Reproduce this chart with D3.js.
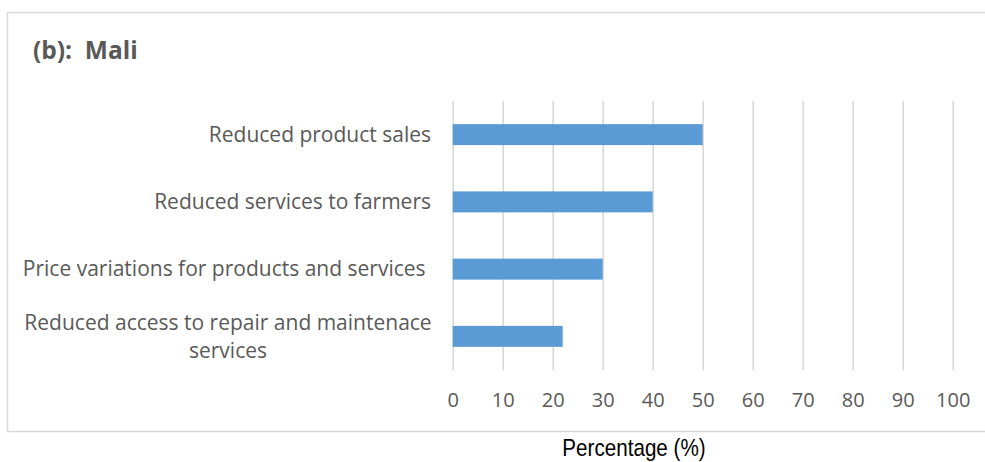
<!DOCTYPE html>
<html>
<head>
<meta charset="utf-8">
<script src="https://cdn.jsdelivr.net/npm/d3@7"></script>
<style>
  html, body { margin: 0; padding: 0; background: #fff; }
  svg { display: block; }
</style>
</head>
<body>
<svg id="chart" width="985" height="462"></svg>
<script>
// Impacts reported in Mali (percentage of respondents)
const categories = [
  "Reduced product sales",
  "Reduced services to farmers",
  "Price variations for products and services ",
  "Reduced access to repair and maintenace services"
];
const values = [50, 40, 30, 22];
const xTicks = [0, 10, 20, 30, 40, 50, 60, 70, 80, 90, 100];
// Line breaks for long category labels
const labelLines = [
  ["Reduced product sales"],
  ["Reduced services to farmers"],
  ["Price variations for products and services "],
  ["Reduced access to repair and maintenace", "services"]
];

const svg = d3.select("#chart");
const textColor = "#595959";
const gridColor = "#d9d9d9";
const barColor = "#5b9bd5";
const font = "'Open Sans', Lato, sans-serif";

// chart frame
svg.append("rect")
  .attr("x", 7.5).attr("y", 12.5)
  .attr("width", 990).attr("height", 419)
  .attr("fill", "#fff")
  .attr("stroke", gridColor)
  .attr("stroke-width", 1.5);

// title
svg.append("text")
  .attr("x", 33).attr("y", 59)
  .attr("fill", textColor)
  .attr("font-family", font)
  .attr("font-weight", "bold")
  .attr("font-size", 24.5)
  .style("white-space", "pre")
  .text("(b):  Mali");

const x = d3.scaleLinear().domain([0, 100]).range([452.7, 952.7]);
const y = d3.scaleBand().domain(categories).range([101, 370])
  .paddingInner(0.688).paddingOuter(0.344);

// vertical gridlines
const grid = d3.axisBottom(x).tickValues(xTicks).tickSize(-(370 - 101)).tickFormat("");
const gridG = svg.append("g").attr("transform", "translate(0,370)").call(grid);
gridG.select(".domain").remove();
gridG.selectAll("line").attr("stroke", gridColor).attr("stroke-width", 1.6);

// bars
svg.append("g").selectAll("rect")
  .data(values)
  .join("rect")
  .attr("x", x(0))
  .attr("y", (d, i) => y(categories[i]))
  .attr("width", d => x(d) - x(0))
  .attr("height", y.bandwidth())
  .attr("fill", barColor);

// x tick labels
const xAxis = d3.axisBottom(x).tickValues(xTicks).tickSize(0).tickPadding(0);
const xg = svg.append("g").attr("transform", "translate(0,393)").call(xAxis);
xg.select(".domain").remove();
xg.selectAll("text")
  .attr("fill", textColor)
  .attr("font-family", font)
  .attr("font-size", 20)
  .attr("dy", "0.71em")
  .attr("y", 0);

// category labels
const labelG = svg.append("g")
  .attr("font-family", font)
  .attr("font-size", 21)
  .attr("fill", textColor);
categories.forEach((c, i) => {
  const lines = labelLines[i];
  const cy = y(c) + y.bandwidth() / 2;
  const lineH = 28;
  const multi = lines.length > 1;
  const t = labelG.append("text")
    .attr("text-anchor", multi ? "middle" : "end")
    .style("white-space", "pre");
  lines.forEach((ln, j) => {
    t.append("tspan")
      .attr("x", multi ? 228 : 431)
      .attr("y", cy + (j - (lines.length - 1) / 2) * lineH)
      .attr("dy", "0.35em")
      .text(ln);
  });
});

// axis title below the frame (narrow lettering)
svg.append("text")
  .attr("transform", "translate(634,456) scale(0.86,1)")
  .attr("text-anchor", "middle")
  .attr("fill", "#000")
  .attr("font-family", "'Liberation Sans', Arial, sans-serif")
  .attr("font-size", 24)
  .text("Percentage (%)");
</script>
</body>
</html>
